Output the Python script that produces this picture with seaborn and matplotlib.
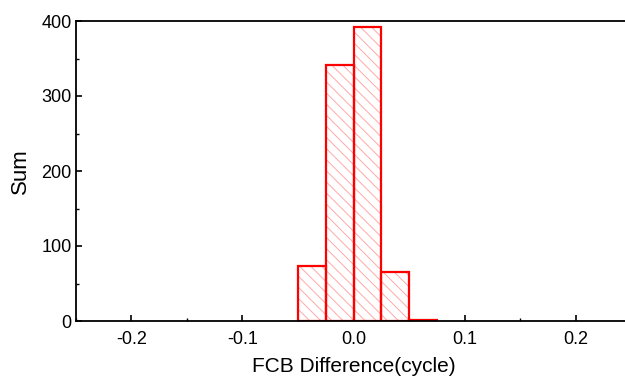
import matplotlib
matplotlib.use("Agg")
import matplotlib.pyplot as plt
import seaborn as sns
import numpy as np
from matplotlib.ticker import MultipleLocator

sns.set_style("ticks")
plt.rcParams['font.family'] = ['Liberation Sans', 'DejaVu Sans']
plt.rcParams['hatch.linewidth'] = 0.7
plt.rcParams['axes.labelcolor'] = 'black'
plt.rcParams['text.color'] = 'black'

bin_edges = [-0.05, -0.025, 0.0, 0.025, 0.05, 0.075]
bin_centers = [-0.0375, -0.0125, 0.0125, 0.0375, 0.0625]
counts = [73, 341, 392, 65, 2]

fig = plt.figure(figsize=(6.25, 3.84), dpi=100)
ax = fig.add_axes([76/625, 1 - 321/384, 555/625, 300/384])

sns.histplot(x=bin_centers, weights=counts, bins=bin_edges, ax=ax,
             fill=True, facecolor='white', edgecolor='#ffa8a8', linewidth=0,
             hatch='\\\\\\', alpha=1)
sns.histplot(x=bin_centers, weights=counts, bins=bin_edges, ax=ax,
             fill=False, element='bars', edgecolor='red', linewidth=1.6,
             color='red')

ax.set_xlim(-0.25, 0.25)
ax.set_ylim(0, 400)
ax.xaxis.set_major_locator(MultipleLocator(0.1))
ax.xaxis.set_minor_locator(MultipleLocator(0.05))
ax.yaxis.set_major_locator(MultipleLocator(100))
ax.yaxis.set_minor_locator(MultipleLocator(50))
ax.xaxis.set_major_formatter(matplotlib.ticker.FuncFormatter(lambda v, p: f"{v:.1f}"))
ax.tick_params(which='major', direction='in', length=4, width=1.2, labelsize=13, colors='black', top=False, right=False)
ax.tick_params(axis='x', which='major', pad=7)
ax.tick_params(axis='y', which='major', pad=3)
ax.tick_params(which='minor', direction='in', length=2.5, width=1.0, colors='black', top=False, right=False)
for s in ['left', 'bottom', 'top']:
    ax.spines[s].set_visible(True)
    ax.spines[s].set_linewidth(1.3)
    ax.spines[s].set_color('black')
ax.spines['right'].set_visible(False)
ax.set_xlabel('FCB Difference(cycle)', fontsize=15, labelpad=7, color='black')
ax.set_ylabel('Sum', fontsize=16, labelpad=8, color='black')

fig.savefig('out.png', dpi=100)
